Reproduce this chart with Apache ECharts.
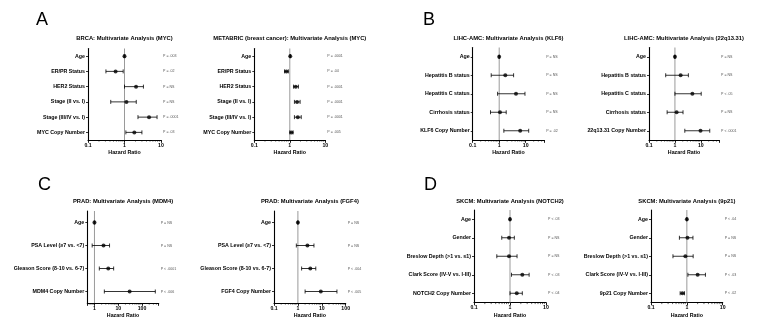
<!DOCTYPE html>
<html>
<head>
<meta charset="utf-8">
<script src="https://cdn.jsdelivr.net/npm/echarts@6/dist/echarts.min.js"></script>
<style>
  html, body { margin: 0; padding: 0; background: #fff; }
  #chart { width: 770px; height: 334px; }
</style>
</head>
<body>
<div id="chart"></div>
<script>
// ---- Hazard ratios (95% CI) from multivariate Cox models ----

// A: breast cancer, MYC
const brcaFactors = ['Age', 'ER/PR Status', 'HER2 Status', 'Stage (II vs. I)', 'Stage (III/IV vs. I)', 'MYC Copy Number'];
const brcaHR   = [1.0, 0.57, 2.07, 1.13, 4.7, 1.86];
const brcaLow  = [0.97, 0.31, 1.0, 0.42, 2.34, 1.09];
const brcaHigh = [1.03, 0.92, 3.3, 2.1, 7.8, 3.0];
const brcaP    = ['P = .003', 'P = .02', 'P = NS', 'P = NS', 'P = .0001', 'P = .03'];

const metabricFactors = ['Age', 'ER/PR Status', 'HER2 Status', 'Stage (II vs. I)', 'Stage (III/IV vs. I)', 'MYC Copy Number'];
const metabricHR   = [1.03, 0.8, 1.47, 1.6, 1.68, 1.11];
const metabricLow  = [1.01, 0.71, 1.27, 1.35, 1.35, 1.0];
const metabricHigh = [1.05, 0.91, 1.75, 1.95, 2.1, 1.24];
const metabricP    = ['P = .0001', 'P = .04', 'P = .0001', 'P = .0001', 'P = .0001', 'P = .005'];

// B: liver cancer, KLF6 and 22q13.31
const klf6Factors = ['Age', 'Hepatitis B status', 'Hepatitis C status', 'Cirrhosis status', 'KLF6 Copy Number'];
const klf6HR   = [1.0, 1.7, 4.3, 1.07, 6.2];
const klf6Low  = [0.97, 0.5, 0.87, 0.47, 1.5];
const klf6High = [1.03, 3.5, 9.4, 1.84, 13];
const klf6P    = ['P = NS', 'P = NS', 'P = NS', 'P = NS', 'P = .02'];

const q1331Factors = ['Age', 'Hepatitis B status', 'Hepatitis C status', 'Cirrhosis status', '22q13.31 Copy Number'];
const q1331HR   = [1.0, 1.66, 4.7, 1.16, 9.7];
const q1331Low  = [0.97, 0.44, 1.0, 0.5, 2.4];
const q1331High = [1.03, 3.3, 10.3, 2.05, 22];
const q1331P    = ['P = NS', 'P = NS', 'P < .05', 'P = NS', 'P < .0001'];

// C: prostate cancer, MDM4 and FGF4
const mdm4Factors = ['Age', 'PSA Level (\u22657 vs. <7)', 'Gleason Score (8-10 vs. 6-7)', 'MDM4 Copy Number'];
const mdm4HR   = [1.0, 2.4, 3.8, 30];
const mdm4Low  = [0.97, 0.8, 1.6, 2.6];
const mdm4High = [1.04, 4.3, 6.4, 360];
const mdm4P    = ['P = NS', 'P = NS', 'P < .0001', 'P < .006'];

const fgf4Factors = ['Age', 'PSA Level (\u22657 vs. <7)', 'Gleason Score (8-10 vs. 6-7)', 'FGF4 Copy Number'];
const fgf4HR   = [1.0, 2.5, 3.3, 9.1];
const fgf4Low  = [0.97, 0.86, 1.43, 2.0];
const fgf4High = [1.04, 4.7, 5.6, 43];
const fgf4P    = ['P = NS', 'P = NS', 'P < .004', 'P < .005'];

// D: melanoma, NOTCH2 and 9p21
const notch2Factors = ['Age', 'Gender', 'Breslow Depth (>1 vs. \u22641)', 'Clark Score (IV-V vs. I-III)', 'NOTCH2 Copy Number'];
const notch2HR   = [1.0, 0.94, 0.94, 2.2, 1.54];
const notch2Low  = [0.98, 0.59, 0.43, 1.1, 1.0];
const notch2High = [1.02, 1.32, 1.57, 3.4, 2.2];
const notch2P    = ['P < .03', 'P = NS', 'P = NS', 'P < .03', 'P < .04'];

const p9p21Factors = ['Age', 'Gender', 'Breslow Depth (>1 vs. \u22641)', 'Clark Score (IV-V vs. I-III)', '9p21 Copy Number'];
const p9p21HR   = [1.0, 1.04, 0.91, 2.0, 0.75];
const p9p21Low  = [0.98, 0.62, 0.41, 1.07, 0.65];
const p9p21High = [1.02, 1.48, 1.5, 3.3, 0.86];
const p9p21P    = ['P < .04', 'P = NS', 'P = NS', 'P < .03', 'P < .02'];

const panelTitles = [
  'BRCA: Multivariate Analysis (MYC)',
  'METABRIC (breast cancer): Multivariate Analysis (MYC)',
  'LIHC-AMC: Multivariate Analysis (KLF6)',
  'LIHC-AMC: Multivariate Analysis (22q13.31)',
  'PRAD: Multivariate Analysis (MDM4)',
  'PRAD: Multivariate Analysis (FGF4)',
  'SKCM: Multivariate Analysis (NOTCH2)',
  'SKCM: Multivariate Analysis (9p21)'
];
const panelLetters = ['A', 'B', 'C', 'D'];
const xAxisName = 'Hazard Ratio';
const referenceHR = 1;

// ---- layout ----
const FONT = '"Liberation Sans", Arial, sans-serif';
const plots = [
  { f: brcaFactors, hr: brcaHR, lo: brcaLow, hi: brcaHigh, p: brcaP, left: 88, width: 73, top: 48.5, height: 91.5, min: 0.1, max: 10 },
  { f: metabricFactors, hr: metabricHR, lo: metabricLow, hi: metabricHigh, p: metabricP, left: 254.3, width: 71, top: 48.5, height: 91.5, min: 0.1, max: 10 },
  { f: klf6Factors, hr: klf6HR, lo: klf6Low, hi: klf6High, p: klf6P, left: 472.7, width: 71.5, top: 47.5, height: 92.5, min: 0.1, max: 50 },
  { f: q1331Factors, hr: q1331HR, lo: q1331Low, hi: q1331High, p: q1331P, left: 649, width: 70, top: 47.5, height: 92.5, min: 0.1, max: 50 },
  { f: mdm4Factors, hr: mdm4HR, lo: mdm4Low, hi: mdm4High, p: mdm4P, left: 87.3, width: 71.4, top: 211, height: 92, min: 0.5, max: 500 },
  { f: fgf4Factors, hr: fgf4HR, lo: fgf4Low, hi: fgf4High, p: fgf4P, left: 274, width: 71.7, top: 211, height: 92, min: 0.1, max: 100 },
  { f: notch2Factors, hr: notch2HR, lo: notch2Low, hi: notch2High, p: notch2P, left: 474, width: 72, top: 210, height: 92.5, min: 0.1, max: 10 },
  { f: p9p21Factors, hr: p9p21HR, lo: p9p21Low, hi: p9p21High, p: p9p21P, left: 651, width: 71.7, top: 210, height: 92.5, min: 0.1, max: 10 }
];
const letterPos = [[36, 11], [423, 11], [38, 176], [424, 176]];

function decadeLabel(v) {
  const l = Math.log10(v);
  if (Math.abs(l - Math.round(l)) > 1e-6) return '';
  return String(Number(v.toPrecision(6)));
}

// minor tick positions (2..9 within each decade) inside the axis range
function minorTickValues(min, max) {
  const out = [];
  for (let e = Math.floor(Math.log10(min)); e <= Math.ceil(Math.log10(max)); e++) {
    for (let m = 2; m <= 9; m++) {
      const v = m * Math.pow(10, e);
      if (v > min * 1.0001 && v < max * 0.9999) out.push([v]);
    }
  }
  return out;
}

const grid = [], xAxis = [], yAxis = [], series = [], title = [];

plots.forEach((pl, i) => {
  grid.push({ left: pl.left, top: pl.top, width: pl.width, height: pl.height, containLabel: false });

  xAxis.push({
    type: 'log', logBase: 10, gridIndex: i, min: pl.min, max: pl.max,
    axisLine: { show: true, lineStyle: { color: '#000', width: 1.1 } },
    axisTick: { show: true, length: 2.8, lineStyle: { color: '#000', width: 0.9 } },
    minorTick: { show: false },
    splitLine: { show: false },
    axisLabel: { fontFamily: FONT, fontSize: 5.2, fontWeight: 'bold', color: '#000', margin: 3, formatter: decadeLabel, showMinLabel: true, showMaxLabel: true },
    name: xAxisName, nameLocation: 'middle', nameGap: 13,
    nameTextStyle: { fontFamily: FONT, fontSize: 5.3, fontWeight: 'bold', color: '#000', verticalAlign: 'middle' }
  });

  yAxis.push({
    type: 'category', gridIndex: i, data: pl.f, inverse: true, boundaryGap: true,
    axisLine: { show: true, lineStyle: { color: '#000', width: 1.1 } },
    axisTick: { show: true, alignWithLabel: true, length: 2, lineStyle: { color: '#000', width: 0.8 } },
    axisLabel: { fontFamily: FONT, fontSize: 5.3, fontWeight: 'bold', color: '#000', margin: 3 },
    splitLine: { show: false }
  });
  yAxis.push({
    type: 'category', gridIndex: i, data: pl.f, inverse: true, position: 'right', boundaryGap: true,
    axisLine: { show: false }, axisTick: { show: false }, splitLine: { show: false },
    axisLabel: { fontFamily: FONT, fontSize: 3.6, color: '#555', margin: 2, formatter: (v, idx) => pl.p[idx] }
  });

  // vertical reference line at HR = 1, spanning the plot height
  series.push({
    type: 'custom', xAxisIndex: i, yAxisIndex: 2 * i,
    data: [[referenceHR, 0]],
    silent: true,
    renderItem: (params, api) => {
      const cs = params.coordSys;
      const x = api.coord([api.value(0), 0])[0];
      return {
        type: 'line',
        shape: { x1: x, y1: cs.y, x2: x, y2: cs.y + cs.height },
        style: { stroke: '#9a9a9a', lineWidth: 1 }
      };
    },
    z: 1
  });

  // log-spaced minor ticks under the x axis
  series.push({
    type: 'custom', xAxisIndex: i, yAxisIndex: 2 * i,
    data: minorTickValues(pl.min, pl.max),
    silent: true, clip: false,
    renderItem: (params, api) => {
      const cs = params.coordSys;
      const x = api.coord([api.value(0), 0])[0];
      const y = cs.y + cs.height;
      return {
        type: 'line',
        shape: { x1: x, y1: y, x2: x, y2: y + 1.6 },
        style: { stroke: '#000', lineWidth: 0.6 }
      };
    },
    z: 2
  });

  // confidence intervals with end caps
  series.push({
    type: 'custom', xAxisIndex: i, yAxisIndex: 2 * i,
    data: pl.f.map((_, k) => [pl.lo[k], pl.hi[k], k]),
    encode: { x: [0, 1], y: 2 },
    renderItem: (params, api) => {
      const row = api.value(2);
      const a = api.coord([api.value(0), row]);
      const b = api.coord([api.value(1), row]);
      const cap = 2;
      const st = { stroke: '#000', lineWidth: 0.8 };
      return {
        type: 'group', children: [
          { type: 'line', shape: { x1: a[0], y1: a[1], x2: b[0], y2: b[1] }, style: st },
          { type: 'line', shape: { x1: a[0], y1: a[1] - cap, x2: a[0], y2: a[1] + cap }, style: st },
          { type: 'line', shape: { x1: b[0], y1: b[1] - cap, x2: b[0], y2: b[1] + cap }, style: st }
        ]
      };
    },
    z: 3
  });

  series.push({
    type: 'scatter', xAxisIndex: i, yAxisIndex: 2 * i,
    data: pl.f.map((_, k) => [pl.hr[k], k]),
    symbol: 'circle', symbolSize: 4,
    itemStyle: { color: '#000' },
    z: 4
  });

  title.push({
    text: panelTitles[i],
    left: pl.left + pl.width / 2, top: i < 4 ? 35 : 198, textAlign: 'center',
    textStyle: { fontFamily: FONT, fontSize: 5.8, fontWeight: 'bold', color: '#000' },
    padding: 0
  });
});

panelLetters.forEach((t, k) => {
  title.push({
    text: t, left: letterPos[k][0], top: letterPos[k][1], padding: 0,
    textStyle: { fontFamily: FONT, fontSize: 18, fontWeight: 'normal', color: '#000' }
  });
});

const chart = echarts.init(document.getElementById('chart'), null, { renderer: 'canvas' });
chart.setOption({
  backgroundColor: '#fff',
  animation: false,
  title, grid, xAxis, yAxis, series
});
</script>
</body>
</html>
